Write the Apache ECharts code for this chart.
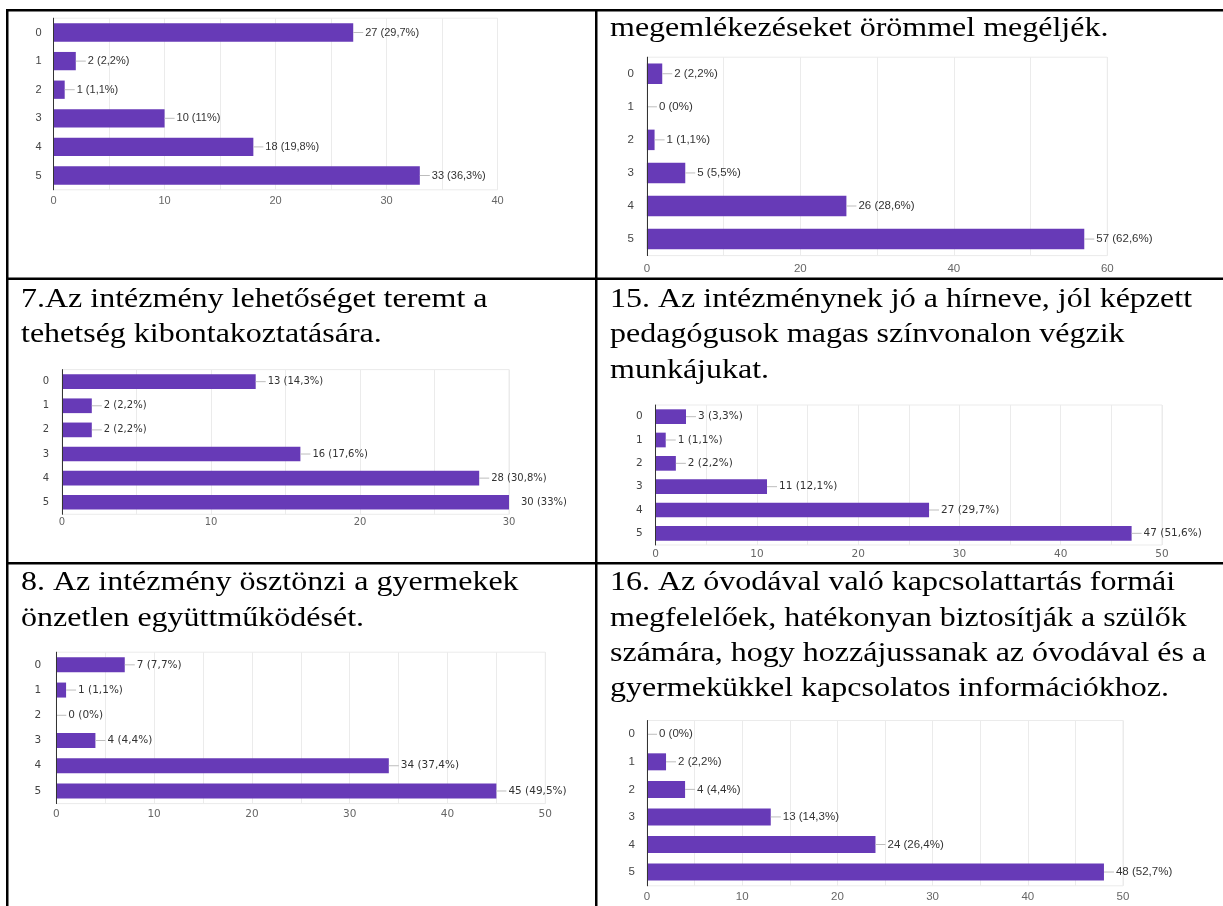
<!DOCTYPE html>
<html><head><meta charset="utf-8">
<script src="https://cdn.jsdelivr.net/npm/echarts@6/dist/echarts.min.js"></script>
<style>html,body{margin:0;padding:0;background:#fff}#c{width:1223px;height:906px}</style>
</head><body><div id="c"></div>
<script>
// ---- data ----
const categories = ['0', '1', '2', '3', '4', '5'];
const respondents = 91;
const countsA  = [27, 2, 1, 10, 18, 33];   // top-left (continued question)
const countsB  = [2, 0, 1, 5, 26, 57];     // top-right (continued question)
const counts7  = [13, 2, 2, 16, 28, 30];
const counts15 = [3, 1, 2, 11, 27, 47];
const counts8  = [7, 1, 0, 4, 34, 45];
const counts16 = [0, 2, 4, 13, 24, 48];
const axisMaxes = [40, 60, 30, 50, 50, 50];
const tickSteps = [10, 20, 10, 10, 10, 10];
const titleB  = ['megemlékezéseket örömmel megéljék.'];
const title7  = ['7.Az intézmény lehetőséget teremt a', 'tehetség kibontakoztatására.'];
const title15 = ['15. Az intézménynek jó a hírneve, jól képzett', 'pedagógusok magas színvonalon végzik', 'munkájukat.'];
const title8  = ['8. Az intézmény ösztönzi a gyermekek', 'önzetlen együttműködését.'];
const title16 = ['16. Az óvodával való kapcsolattartás formái', 'megfelelőek, hatékonyan biztosítják a szülők', 'számára, hogy hozzájussanak az óvodával és a', 'gyermekükkel kapcsolatos információkhoz.'];

const seriesData = [countsA, countsB, counts7, counts15, counts8, counts16];

// ---- layout (positions / styles) ----
const layout = [
  {left: 53.6, top: 18.2, width: 443.9, height: 171.6, bar: 18.3, font: 'Liberation Sans', size: 11,   catMargin: 12, xMargin: 6},
  {left: 646.9, top: 57.2, width: 460.4, height: 198.4, bar: 20.5, font: 'Liberation Sans', size: 11.5, catMargin: 13, xMargin: 7},
  {left: 62,   top: 369.6, width: 447,   height: 144.7, bar: 14.7, font: 'DejaVu Sans', size: 10,   catMargin: 13, xMargin: 3},
  {left: 655.6, top: 405,  width: 506.4, height: 140,   bar: 14.7, font: 'DejaVu Sans', size: 10.5, catMargin: 13, xMargin: 3.5},
  {left: 56.3, top: 652.2, width: 489,   height: 151.4, bar: 15,   font: 'DejaVu Sans', size: 10.5, catMargin: 15, xMargin: 5},
  {left: 647,  top: 720.5, width: 476,   height: 165.3, bar: 17,   font: 'Liberation Sans', size: 11.5, catMargin: 12, xMargin: 5.5}
];
const titles = [
  {lines: titleB,  x: 610, y: 10.5},
  {lines: title7,  x: 21,  y: 281.6},
  {lines: title15, x: 610, y: 281.6},
  {lines: title8,  x: 21,  y: 565},
  {lines: title16, x: 610, y: 565}
];

function pct(v) {
  const r = Math.round(v / respondents * 1000) / 10;
  return String(r).replace('.', ',');
}

const grids = [], xAxes = [], yAxes = [], series = [];
layout.forEach((L, i) => {
  const max = axisMaxes[i];
  grids.push({left: L.left, top: L.top, width: L.width, height: L.height,
    show: true, borderColor: '#ebebeb', borderWidth: 1, backgroundColor: 'transparent'});
  xAxes.push({type: 'value', gridIndex: i, min: 0, max: max, interval: tickSteps[i],
    axisLine: {show: false}, axisTick: {show: false},
    axisLabel: {color: '#666', fontSize: L.size, fontFamily: L.font, margin: L.xMargin},
    splitLine: {show: true, lineStyle: {color: '#ebebeb', width: 1}},
    minorTick: {show: false, splitNumber: 2},
    minorSplitLine: {show: true, lineStyle: {color: '#ebebeb', width: 1}}});
  yAxes.push({type: 'category', gridIndex: i, data: categories, inverse: true, z: 5,
    axisLine: {show: true, lineStyle: {color: '#333', width: 1}},
    axisTick: {show: false}, splitLine: {show: false},
    axisLabel: {color: '#444', fontSize: L.size, fontFamily: L.font, margin: L.catMargin}});
  series.push({type: 'bar', xAxisIndex: i, yAxisIndex: i, data: seriesData[i],
    barWidth: L.bar, silent: true,
    itemStyle: {color: '#673ab7'},
    label: {show: true, position: 'right', distance: 0,
      formatter: p => '{' + (p.value >= max ? 'n' : 's') + '| }{t|' + p.value + ' (' + pct(p.value) + '%)}',
      rich: {
        s: {width: 10, height: 1, backgroundColor: '#bdbdbd'},
        n: {width: 10, height: 1},
        t: {fontSize: L.size, fontFamily: L.font, color: '#333', padding: [0, 0, 0, 2]}
      }}});
});

const graphic = [
  {type: 'rect', shape: {x: 6, y: 9, width: 1217, height: 2.5}, style: {fill: '#000'}, silent: true},
  {type: 'rect', shape: {x: 6, y: 277.5, width: 1217, height: 2.5}, style: {fill: '#000'}, silent: true},
  {type: 'rect', shape: {x: 6, y: 562, width: 1217, height: 2.5}, style: {fill: '#000'}, silent: true},
  {type: 'rect', shape: {x: 6, y: 9, width: 2.5, height: 897}, style: {fill: '#000'}, silent: true},
  {type: 'rect', shape: {x: 595, y: 9, width: 2.5, height: 897}, style: {fill: '#000'}, silent: true}
];
titles.forEach(t => {
  graphic.push({type: 'text', x: t.x, y: t.y, scaleY: 0.875, silent: true,
    style: {text: t.lines.join('\n'), fontSize: 32, fontFamily: 'Liberation Serif',
      lineHeight: 40.5, fill: '#000', verticalAlign: 'top', align: 'left'}});
});

const chart = echarts.init(document.getElementById('c'), null, {renderer: 'canvas'});
chart.setOption({
  animation: false,
  backgroundColor: '#fff',
  textStyle: {fontFamily: 'Liberation Sans'},
  grid: grids, xAxis: xAxes, yAxis: yAxes, series: series,
  graphic: graphic
});
</script></body></html>
